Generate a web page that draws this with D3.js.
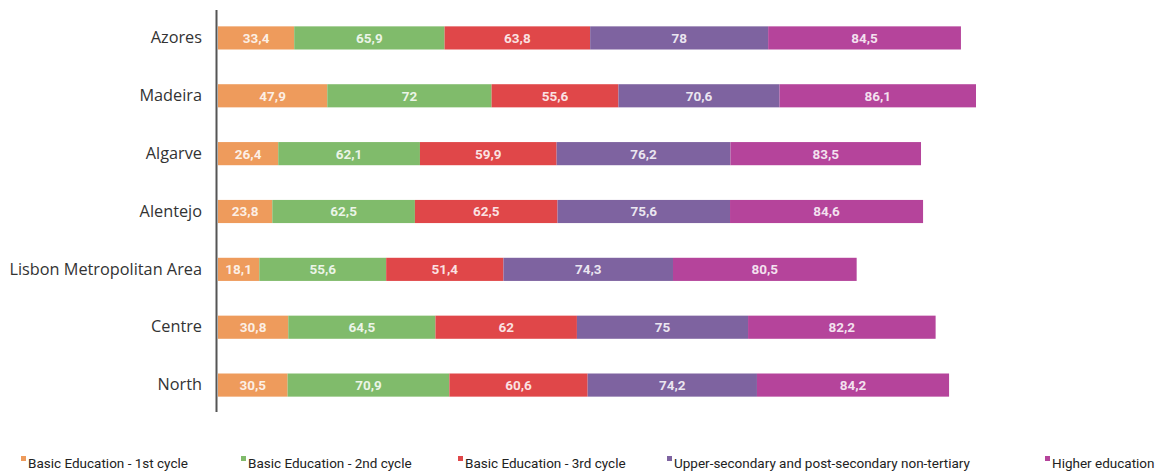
<!DOCTYPE html>
<html>
<head>
<meta charset="utf-8">
<script src="https://cdn.jsdelivr.net/npm/d3@7"></script>
<style>
  html, body { margin: 0; padding: 0; background: #fff; }
  svg { display: block; }
</style>
</head>
<body>
<svg id="chart" width="1176" height="472"></svg>
<script>
// Regions, top to bottom
const regions = ["Azores", "Madeira", "Algarve", "Alentejo", "Lisbon Metropolitan Area", "Centre", "North"];

// Education levels (stack order, left to right)
const levels = [
  "Basic Education - 1st cycle",
  "Basic Education - 2nd cycle",
  "Basic Education - 3rd cycle",
  "Upper-secondary and post-secondary non-tertiary",
  "Higher education"
];

// Values per level, one entry per region (same order as regions)
const basic1 = [33.4, 47.9, 26.4, 23.8, 18.1, 30.8, 30.5];
const basic2 = [65.9, 72.0, 62.1, 62.5, 55.6, 64.5, 70.9];
const basic3 = [63.8, 55.6, 59.9, 62.5, 51.4, 62.0, 60.6];
const upperSecondary = [78.0, 70.6, 76.2, 75.6, 74.3, 75.0, 74.2];
const higher = [84.5, 86.1, 83.5, 84.6, 80.5, 82.2, 84.2];

const series = [basic1, basic2, basic3, upperSecondary, higher];
const colors = ["#ee9b5c", "#80bb6b", "#e04749", "#7e63a0", "#b5449b"];

const rows = regions.map((r, i) => {
  const o = { region: r };
  levels.forEach((l, j) => { o[l] = series[j][i]; });
  return o;
});

const stacked = d3.stack().keys(levels)(rows);
const maxTotal = d3.max(stacked[stacked.length - 1], d => d[1]);

const svg = d3.select("#chart");
const fmt = v => String(v).replace(".", ",");

const x = d3.scaleLinear().domain([0, maxTotal]).range([218, 976]);
const y = d3.scaleBand().domain(regions).range([9, 414]).paddingInner(0.6).paddingOuter(0.3);

// Bars
const layer = svg.append("g").selectAll("g")
  .data(stacked)
  .join("g")
  .attr("fill", (d, i) => colors[i]);

layer.selectAll("rect")
  .data(d => d)
  .join("rect")
  .attr("x", d => x(d[0]))
  .attr("y", d => y(d.data.region))
  .attr("width", d => x(d[1]) - x(d[0]))
  .attr("height", y.bandwidth());

// Value labels
layer.selectAll("text")
  .data((d, i) => d.map(v => ({ v, key: levels[i] })))
  .join("text")
  .attr("x", d => (x(d.v[0]) + x(d.v[1])) / 2)
  .attr("y", d => y(d.v.data.region) + y.bandwidth() / 2)
  .attr("dy", "0.36em")
  .attr("text-anchor", "middle")
  .attr("fill", "#fff")
  .attr("fill-opacity", 0.85)
  .style("font", "bold 13.5px Roboto, 'DejaVu Sans', sans-serif")
  .text(d => fmt(d.v.data[d.key]));

// Category axis
const yAxis = d3.axisLeft(y).tickSize(0).tickPadding(14);
const ax = svg.append("g").attr("transform", "translate(216,0)").call(yAxis);
ax.select(".domain").remove();
ax.selectAll("text")
  .attr("fill", "#333")
  .style("font", "16.3px 'Open Sans', 'DejaVu Sans', sans-serif");
svg.append("line")
  .attr("x1", 216.5).attr("x2", 216.5)
  .attr("y1", 10).attr("y2", 412)
  .attr("stroke", "#555").attr("stroke-width", 2);

// Legend
const legendX = [21, 241, 458, 667, 1045];
const legend = svg.append("g").selectAll("g")
  .data(levels)
  .join("g")
  .attr("transform", (d, i) => `translate(${legendX[i]},463)`);
legend.append("rect")
  .attr("x", 0).attr("y", -7).attr("width", 5).attr("height", 5)
  .attr("fill", (d, i) => colors[i]);
legend.append("text")
  .attr("x", 7).attr("y", 0).attr("dy", "0.34em")
  .attr("fill", "#222")
  .style("font", "13.5px Roboto, 'DejaVu Sans', sans-serif")
  .text(d => d);
</script>
</body>
</html>
